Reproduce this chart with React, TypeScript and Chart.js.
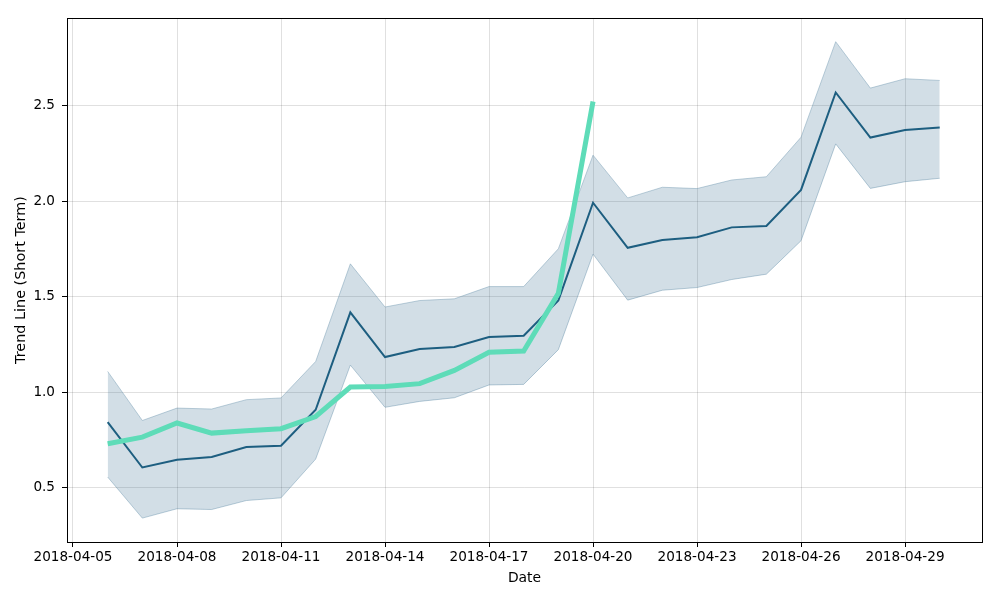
import React, { useEffect, useRef } from "react";
import { Chart, registerables } from "chart.js";

Chart.register(...registerables);

const DATES = [
  "2018-04-06", "2018-04-07", "2018-04-08", "2018-04-09", "2018-04-10",
  "2018-04-11", "2018-04-12", "2018-04-13", "2018-04-14", "2018-04-15",
  "2018-04-16", "2018-04-17", "2018-04-18", "2018-04-19", "2018-04-20",
  "2018-04-21", "2018-04-22", "2018-04-23", "2018-04-24", "2018-04-25",
  "2018-04-26", "2018-04-27", "2018-04-28", "2018-04-29", "2018-04-30",
];
const TREND = [0.843, 0.605, 0.646, 0.66, 0.712, 0.719, 0.907, 1.417, 1.183, 1.225, 1.236, 1.288, 1.295, 1.48, 1.991, 1.755, 1.796, 1.81, 1.862, 1.869, 2.058, 2.568, 2.332, 2.372, 2.385];
const UPPER = [1.108, 0.851, 0.916, 0.911, 0.96, 0.969, 1.16, 1.671, 1.445, 1.479, 1.488, 1.552, 1.552, 1.75, 2.24, 2.016, 2.072, 2.065, 2.11, 2.127, 2.334, 2.834, 2.591, 2.64, 2.631];
const LOWER = [0.555, 0.34, 0.389, 0.385, 0.432, 0.446, 0.649, 1.141, 0.92, 0.951, 0.97, 1.037, 1.04, 1.222, 1.722, 1.481, 1.533, 1.547, 1.589, 1.617, 1.792, 2.299, 2.066, 2.101, 2.119];
const ACTUAL_DATES = DATES.slice(0, 15);
const ACTUAL = [0.729, 0.764, 0.838, 0.785, 0.797, 0.808, 0.872, 1.026, 1.029, 1.044, 1.113, 1.208, 1.215, 1.517, 2.521];

const X_TICKS = ["2018-04-05", "2018-04-08", "2018-04-11", "2018-04-14", "2018-04-17", "2018-04-20", "2018-04-23", "2018-04-26", "2018-04-29"];
const Y_TICKS = [0.5, 1.0, 1.5, 2.0, 2.5];

const BASE = Date.UTC(2018, 3, 5);
const dayOf = (s: string) => {
  const [y, m, d] = s.split("-").map(Number);
  return (Date.UTC(y, m - 1, d) - BASE) / 86400000;
};
const labelOf = (v: number) => {
  const dt = new Date(BASE + Math.round(v) * 86400000);
  const mm = String(dt.getUTCMonth() + 1).padStart(2, "0");
  const dd = String(dt.getUTCDate()).padStart(2, "0");
  return `${dt.getUTCFullYear()}-${mm}-${dd}`;
};

const FONT = "'DejaVu Sans', sans-serif";

const frame = {
  id: "frame",
  afterDraw(chart: any) {
    const { ctx, chartArea: a } = chart;
    ctx.save();
    ctx.strokeStyle = "#000";
    ctx.lineWidth = 1;
    ctx.strokeRect(Math.round(a.left) + 0.5, Math.round(a.top) + 0.5, Math.round(a.right - a.left), Math.round(a.bottom - a.top));
    ctx.restore();
  },
};

export default function App() {
  const ref = useRef<HTMLCanvasElement | null>(null);
  useEffect(() => {
    if (!ref.current) return;
    const pts = (dates: string[], vals: number[]) => dates.map((d, i) => ({ x: dayOf(d), y: vals[i] }));
    const chart = new Chart(ref.current, {
      type: "line",
      data: {
        datasets: [
          {
            label: "actual",
            data: pts(ACTUAL_DATES, ACTUAL),
            borderColor: "#5edcb8",
            borderWidth: 5,
            pointRadius: 0,
            fill: false,
            order: 0,
          },
          {
            label: "trend",
            data: pts(DATES, TREND),
            borderColor: "#1d5e80",
            borderWidth: 2,
            pointRadius: 0,
            fill: false,
            order: 1,
          },
          {
            label: "lower",
            data: pts(DATES, LOWER),
            borderColor: "rgba(110,150,175,0.45)",
            borderWidth: 1,
            pointRadius: 0,
            fill: false,
            order: 3,
          },
          {
            label: "upper",
            data: pts(DATES, UPPER),
            borderColor: "rgba(110,150,175,0.45)",
            borderWidth: 1,
            pointRadius: 0,
            backgroundColor: "rgba(31,90,130,0.2)",
            fill: 2,
            order: 2,
          },
        ],
      },
      options: {
        animation: false,
        responsive: false,
        maintainAspectRatio: false,
        layout: { padding: { left: 0, right: 18, top: 18, bottom: 0 } },
        plugins: { legend: { display: false }, tooltip: { enabled: false } },
        elements: { line: { tension: 0 } },
        scales: {
          x: {
            type: "linear",
            min: -0.173,
            max: 26.22,
            afterBuildTicks: (s: any) => {
              s.ticks = X_TICKS.map((t) => ({ value: dayOf(t) }));
            },
            afterFit: (s: any) => {
              s.height = 58;
            },
            ticks: {
              callback: (v: any) => labelOf(Number(v)),
              color: "#000",
              font: { family: FONT, size: 13.6 },
              padding: 2,
              maxRotation: 0,
              autoSkip: false,
            },
            grid: { color: "rgba(0,0,0,0.12)", tickColor: "#000", tickLength: 5, lineWidth: 1 },
            border: { display: false },
            title: { display: true, text: "Date", color: "#000", font: { family: FONT, size: 13.9 }, padding: { top: 2, bottom: 13 } },
          },
          y: {
            type: "linear",
            min: 0.215,
            max: 2.958,
            afterBuildTicks: (s: any) => {
              s.ticks = Y_TICKS.map((v) => ({ value: v }));
            },
            afterFit: (s: any) => {
              s.width = 67;
            },
            ticks: {
              callback: (v: any) => Number(v).toFixed(1),
              color: "#000",
              font: { family: FONT, size: 13.6 },
              padding: 7,
            },
            grid: { color: "rgba(0,0,0,0.12)", tickColor: "#000", tickLength: 5, lineWidth: 1 },
            border: { display: false },
            title: { display: true, text: "Trend Line (Short Term)", color: "#000", font: { family: FONT, size: 14.4 }, padding: { top: 13, bottom: 0 } },
          },
        },
      },
      plugins: [frame],
    } as any);
    return () => chart.destroy();
  }, []);
  return (
    <div style={{ position: "fixed", left: 0, top: 0, width: 1000, height: 600, background: "#fff" }}>
      <canvas ref={ref} width={1000} height={600} style={{ width: 1000, height: 600 }} />
    </div>
  );
}
